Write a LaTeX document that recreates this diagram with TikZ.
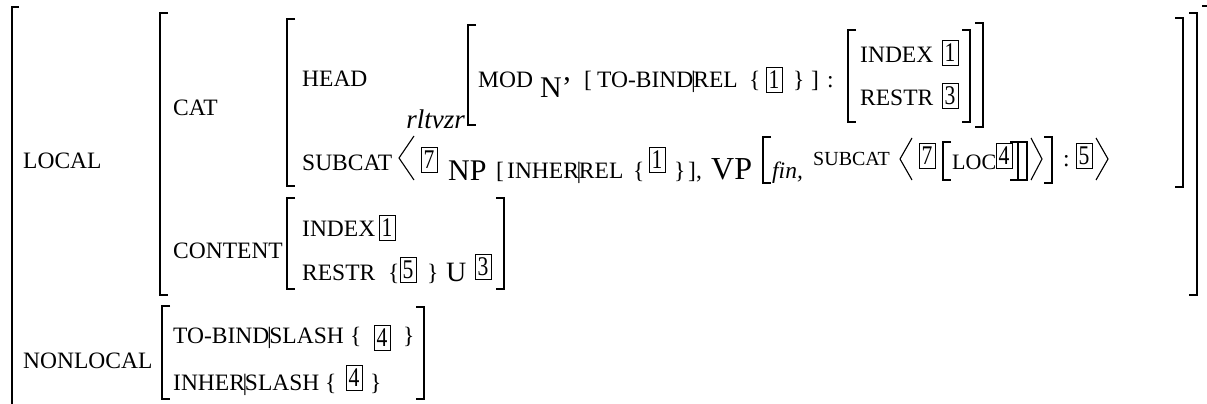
\documentclass[tikz,border=0pt]{standalone}
\usepackage{fontspec}
\setmainfont{Liberation Serif}
\newfontfamily\digitfont[FakeStretch=0.8]{Liberation Serif}
\newcommand\fs[1]{\fontsize{#1}{#1}\selectfont}
\newcommand\vbar{\makebox[0pt]{\textbar}}
\newcommand\LB[3]{\draw[brk] ({#1+8},#2) -- (#1,#2) -- (#1,#3) -- ({#1+8},#3);}
\newcommand\RB[3]{\draw[brk] ({#1-8},#2) -- (#1,#2) -- (#1,#3) -- ({#1-8},#3);}
\tikzset{
  lbl/.style={anchor=base west, inner sep=0pt, font=\fs{23.5}},
  big/.style={anchor=base west, inner sep=0pt, font=\fs{30}},
  sm/.style={anchor=base west, inner sep=0pt, font=\fs{20}},
  tag/.style={draw, line width=1pt, inner sep=0pt, minimum width=16pt, minimum height=25pt, font=\digitfont\fs{27}},
  brk/.style={line width=1.6pt},
  ang/.style={line width=1.1pt},
}
\begin{document}
\begin{tikzpicture}[x=1pt,y=-1pt]
\useasboundingbox (0,0) rectangle (1207,404);
\clip (0,0) rectangle (1207,404);
% outer brackets
\draw[brk] (19,7) -- (12,7) -- (12,420);
\draw[brk] (1202,6) -- (1210,6) -- (1210,420);
% LOCAL value
\LB{160}{13}{295}
\RB{1197}{13}{295}
% CAT value
\LB{287}{19}{186}
\RB{1183}{18}{187}
% HEAD value
\LB{468}{25}{125}
\RB{983}{23}{127}
% INDEX/RESTR
\LB{848}{30}{122}
\RB{970}{30}{122}
% CONTENT value
\LB{287}{198}{289}
\RB{504}{198}{289}
% NONLOCAL value
\LB{162}{306}{399}
\RB{424}{307}{399}
% VP bracket
\LB{763}{137}{183}
\RB{1052}{137}{183}
% LOC bracket
\LB{943}{142}{180}
\RB{1018}{142}{180}
\RB{1027}{142}{180}
% angles
\draw[ang] (414,136) -- (399,158) -- (414,180);
\draw[ang] (912,138) -- (900,159) -- (912,180);
\draw[ang] (1031,138) -- (1042,159) -- (1031,180);
\draw[ang] (1096,138) -- (1108,159) -- (1096,180);

% labels
\node[lbl] (local) at (23,168) {LOCAL};
\node[lbl] (cat) at (173,115) {CAT};
\node[lbl] (head) at (302,86) {HEAD};
\node[anchor=base east, inner sep=0pt, font=\fs{27}\itshape] (rl) at (465,128) {rltvzr};
\node[lbl] (mod) at (478,87) {MOD};
\node[big] (nbar) at (540,97) {N’};
\node[lbl] (lb1) at (584,87) {[};
\node[lbl] (tbrel) at (597,87) {TO-BIND\vbar REL};
\node[lbl] (lc1) at (749,87) {\{};
\node[tag] (t1a) at (774,80) {1};
\node[lbl] (rc1) at (793,87) {\}};
\node[lbl] (rb1) at (811,87) {]};
\node[lbl] (col1) at (827,87) {:};
\node[lbl] (idx1) at (860,63) {INDEX};
\node[tag] (t1b) at (950,53) {1};
\node[lbl] (rst1) at (860,105) {RESTR};
\node[tag] (t3a) at (950,96) {3};

\node[lbl] (subcat) at (302,170) {SUBCAT};
\node[tag] (t7a) at (429,160) {7};
\node[big] (np) at (448,180) {NP};
\node[lbl] (lb2) at (496,178) {[};
\node[lbl] (inrel) at (507,178) {INHER\vbar REL};
\node[lbl] (lc2) at (633,178) {\{};
\node[tag] (t1c) at (657,160) {1};
\node[lbl] (rc2) at (674,178) {\}};
\node[lbl] (rb2) at (688,178) {],};
\node[anchor=base west, inner sep=0pt, font=\fs{32}] (vp) at (711,179) {VP};
\node[anchor=base west, inner sep=0pt, font=\fs{23.5}\itshape] (fin) at (772,178) {fin,};
\node[sm] (subcat2) at (813,165) {SUBCAT};
\node[tag] (t7b) at (927,156) {7};
\node[anchor=base west, inner sep=0pt, font=\fs{22}] (loc) at (952,169) {LOC};
\node[tag] (t4a) at (1004,156) {4};
\node[lbl] (col2) at (1063,166) {:};
\node[tag] (t5a) at (1084,156) {5};

\node[lbl] (content) at (173,258) {CONTENT};
\node[lbl] (idx2) at (302,236) {INDEX};
\node[tag] (t1d) at (387,228) {1};
\node[lbl] (rst2) at (302,280) {RESTR};
\node[lbl] (lc3) at (388,280) {\{};
\node[tag] (t5b) at (408,270) {5};
\node[lbl] (rc3) at (427,280) {\}};
\node[anchor=base west, inner sep=0pt, font=\fs{28}] (cup) at (446,281) {U};
\node[tag] (t3b) at (483,267) {3};

\node[lbl] (nonlocal) at (23,368) {NONLOCAL};
\node[lbl] (tbsl) at (173,343) {TO-BIND\vbar SLASH};
\node[lbl] (lc4) at (350,343) {\{};
\node[tag] (t4b) at (382,338) {4};
\node[lbl] (rc4) at (403,343) {\}};
\node[lbl] (insl) at (173,390) {INHER\vbar SLASH};
\node[lbl] (lc5) at (325,390) {\{};
\node[tag] (t4c) at (354,378) {4};
\node[lbl] (rc5) at (370,390) {\}};
\end{tikzpicture}
\end{document}
